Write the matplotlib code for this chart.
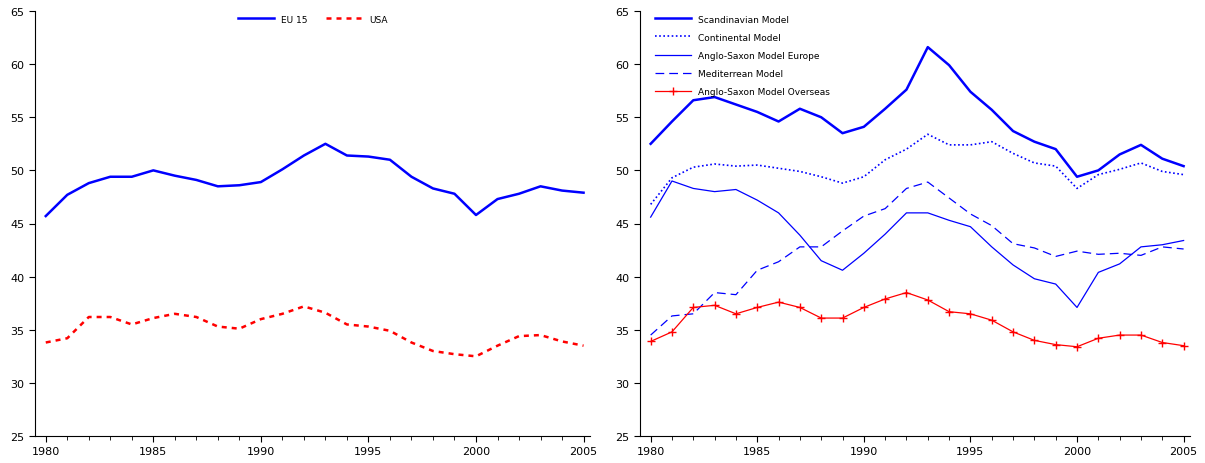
import numpy as np
import matplotlib.pyplot as plt

years = list(range(1980, 2006))

eu15 = [45.7,47.7,48.8,49.4,49.4,50.0,49.5,49.1,48.5,48.6,48.9,50.1,51.4,52.5,51.4,51.3,51.0,49.4,48.3,47.8,45.8,47.3,47.8,48.5,48.1,47.9]
usa = [33.8,34.2,36.2,36.2,35.5,36.1,36.5,36.2,35.3,35.1,36.0,36.5,37.2,36.6,35.5,35.3,34.9,33.8,33.0,32.7,32.5,33.5,34.4,34.5,33.9,33.5]

scand = [52.5,54.6,56.6,56.9,56.2,55.5,54.6,55.8,55.0,53.5,54.1,55.8,57.6,61.6,59.9,57.4,55.7,53.7,52.7,52.0,49.4,50.0,51.5,52.4,51.1,50.4]
contin = [46.8,49.3,50.3,50.6,50.4,50.5,50.2,49.9,49.4,48.8,49.4,51.0,52.0,53.4,52.4,52.4,52.7,51.6,50.7,50.4,48.3,49.6,50.1,50.7,49.9,49.6]
anglo_eu = [45.6,49.0,48.3,48.0,48.2,47.2,46.0,43.9,41.5,40.6,42.2,44.0,46.0,46.0,45.3,44.7,42.8,41.1,39.8,39.3,37.1,40.4,41.2,42.8,43.0,43.4]
medit = [34.5,36.3,36.5,38.5,38.3,40.6,41.4,42.8,42.8,44.3,45.7,46.4,48.3,48.9,47.4,45.9,44.8,43.1,42.7,41.9,42.4,42.1,42.2,42.0,42.8,42.6]
anglo_os = [33.9,34.8,37.1,37.3,36.5,37.1,37.6,37.1,36.1,36.1,37.1,37.9,38.5,37.8,36.7,36.5,35.9,34.8,34.0,33.6,33.4,34.2,34.5,34.5,33.8,33.5]

blue = '#0000ff'
red = '#ff0000'

fig = plt.figure(figsize=(12.05, 4.64), dpi=100)
ax1 = fig.add_axes([35/1205, 27/464, 555/1205, 425/464])
ax2 = fig.add_axes([640/1205, 27/464, 550/1205, 425/464])

def style(ax):
    ax.set_xlim(1979.5, 2005.3)
    ax.set_ylim(25, 65)
    ax.set_yticks(range(25, 70, 5))
    ax.set_xticks(range(1980, 2006, 5))
    ax.set_xticks(years, minor=True)
    ax.spines['top'].set_visible(False)
    ax.spines['right'].set_visible(False)
    ax.tick_params(labelsize=8, direction='out', length=4)
    ax.tick_params(which='minor', length=3)

ax1.plot(years, eu15, color=blue, lw=1.8, label='EU 15')
ax1.plot(years, usa, color=red, lw=1.8, ls=(0, (2, 2)), label='USA')
style(ax1)
ax1.legend(loc='upper center', ncol=2, frameon=False, fontsize=6.5, handlelength=4, borderaxespad=0)

ax2.plot(years, scand, color=blue, lw=1.8, label='Scandinavian Model')
ax2.plot(years, contin, color=blue, lw=1.2, ls=(0, (1, 1.5)), label='Continental Model')
ax2.plot(years, anglo_eu, color=blue, lw=0.9, label='Anglo-Saxon Model Europe')
ax2.plot(years, medit, color=blue, lw=0.9, ls=(0, (7, 4)), label='Mediterrean Model')
ax2.plot(years, anglo_os, color=red, lw=0.9, marker='+', ms=5.5, label='Anglo-Saxon Model Overseas')
style(ax2)
ax2.legend(loc='upper left', bbox_to_anchor=(0.02, 1.0), frameon=False, fontsize=6.5,
           handlelength=4, labelspacing=1.0, borderaxespad=0)

fig.savefig('out.png', dpi=100)
